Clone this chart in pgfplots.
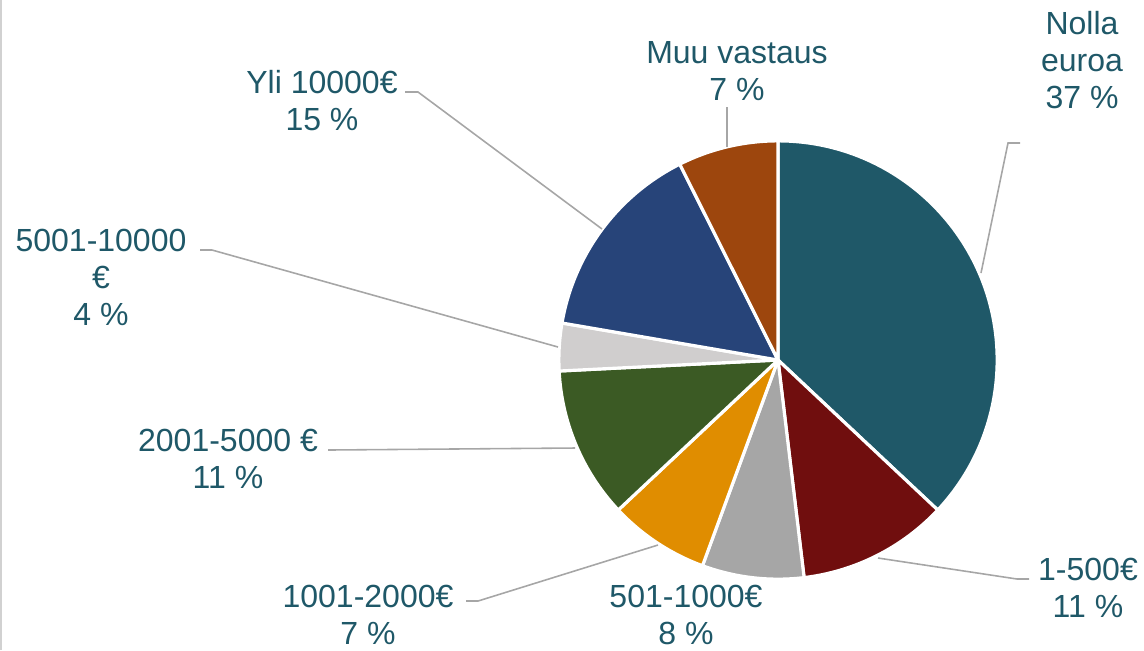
\documentclass[border=0pt]{standalone}
\usepackage{fontspec}
\setmainfont{Liberation Sans}
\usepackage{pgfplots}
\usepackage{pgfplotstable}
\pgfplotsset{compat=1.18}

\definecolor{cNolla}{HTML}{1F5868}
\definecolor{cA}{HTML}{700E0E}
\definecolor{cB}{HTML}{A6A6A6}
\definecolor{cC}{HTML}{E08D00}
\definecolor{cD}{HTML}{3B5A24}
\definecolor{cE}{HTML}{D0CECE}
\definecolor{cF}{HTML}{274479}
\definecolor{cG}{HTML}{9D460D}
\definecolor{labelcol}{HTML}{1F5868}
\definecolor{leader}{HTML}{A6A6A6}

% share of each answer (percent), clockwise from the top
\pgfplotstableread{
name          pct   col
Nolla         37.0  cNolla
1-500         11.1  cA
501-1000       7.5  cB
1001-2000      7.4  cC
2001-5000     11.2  cD
5001-10000     3.5  cE
Yli10000      14.9  cF
Muu            7.4  cG
}\piedata

\begin{document}
\begin{tikzpicture}
\begin{axis}[
  x=0.01cm, y=0.01cm,
  xmin=0, xmax=1144, ymin=0, ymax=650,
  hide axis,
  clip=false,
]
\def\cum{0}
\pgfplotsforeachungrouped \i in {0,...,7}{%
  \pgfplotstablegetelem{\i}{pct}\of\piedata
  \let\pct\pgfplotsretval
  \pgfplotstablegetelem{\i}{col}\of\piedata
  \let\col\pgfplotsretval
  \pgfmathsetmacro\angA{90-3.6*\cum}%
  \pgfmathsetmacro\angB{90-3.6*(\cum+\pct)}%
  \pgfmathsetmacro\cum{\cum+\pct}%
  \edef\tmp{\noexpand\fill[fill=\col, draw=white, line width=0.9pt, line join=round]
    (axis cs:778,290) -- ++(\angA:2.19cm)
    arc[start angle=\angA, end angle=\angB, radius=2.19cm] -- cycle;}%
  \tmp
}

% leader lines
\draw[leader, line width=0.45pt] (axis cs:981,377) -- (axis cs:1008,507) -- (axis cs:1020,507);
\draw[leader, line width=0.45pt] (axis cs:727,503) -- (axis cs:727,543);
\draw[leader, line width=0.45pt] (axis cs:602,421) -- (axis cs:418,558) -- (axis cs:405,558);
\draw[leader, line width=0.45pt] (axis cs:558,303) -- (axis cs:212,400) -- (axis cs:200,400);
\draw[leader, line width=0.45pt] (axis cs:575,202) -- (axis cs:328,200);
\draw[leader, line width=0.45pt] (axis cs:658,105) -- (axis cs:478,49) -- (axis cs:466,49);
\draw[leader, line width=0.45pt] (axis cs:878,92) -- (axis cs:1017,71) -- (axis cs:1029,71);

% left border remnant
\draw[black!18, line width=0.4pt] (axis cs:1,0) -- (axis cs:1,650);

% labels
\tikzset{lab/.style={align=center, text=labelcol, inner sep=0pt, font=\fontsize{9.1}{10.5}\selectfont}}
\node[lab] at (axis cs:1082,590) {Nolla\\euroa\\37 \%};
\node[lab] at (axis cs:737,579) {Muu vastaus\\7 \%};
\node[lab] at (axis cs:322,549) {Yli 10000€\\15 \%};
\node[lab] at (axis cs:101,373) {5001-10000\\€\\4 \%};
\node[lab] at (axis cs:228,191) {2001-5000 €\\11 \%};
\node[lab] at (axis cs:368,35) {1001-2000€\\7 \%};
\node[lab] at (axis cs:686,35) {501-1000€\\8 \%};
\node[lab] at (axis cs:1088,62) {1-500€\\11 \%};
\end{axis}
\pgfresetboundingbox
\path (current axis.south west) rectangle (current axis.north east);
\end{tikzpicture}
\end{document}
